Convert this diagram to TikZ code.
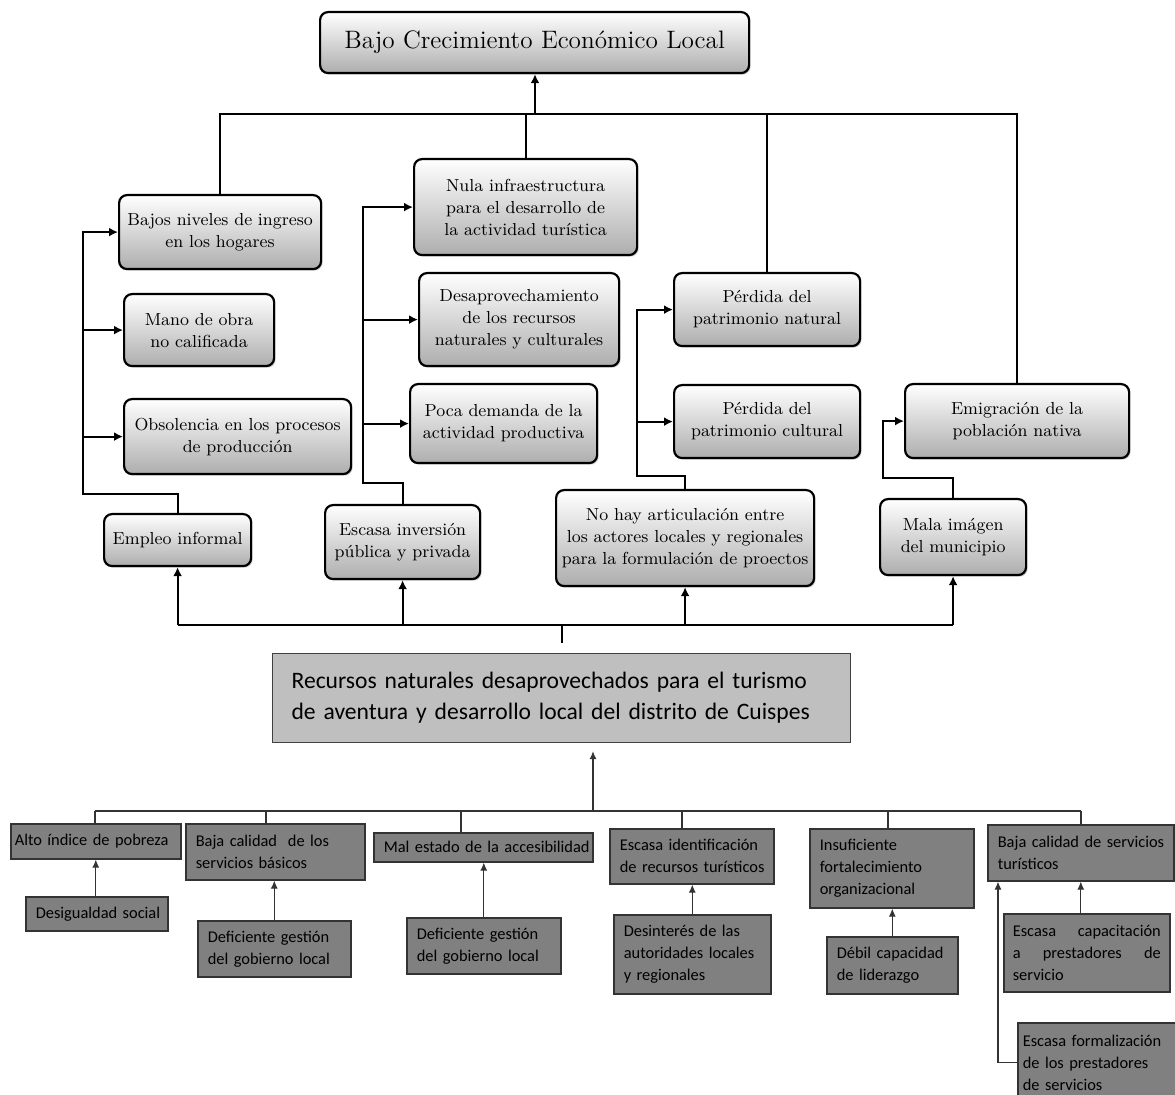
\documentclass[tikz,border=0pt]{standalone}
\usepackage{fontspec}
\newfontfamily\carl{Carlito}
\usetikzlibrary{arrows.meta,shadows}
\newcommand\bnode[8]{%
  \pgfmathsetlengthmacro\bnw{(#5-2*#7)*0.5}%
  \pgfmathsetlengthmacro\bnh{#6*0.5}%
  \pgfmathsetlengthmacro\bnp{#7*0.5}%
  \node[#1, anchor=north west, text width=\bnw, inner xsep=\bnp, inner ysep=0pt, minimum height=\bnh] (#2) at (#3,#4) {#8};}
\newcommand\ml[1]{\mbox{#1}}
\begin{document}
\begin{tikzpicture}[x=0.5pt,y=-0.5pt,
  ubox/.style={draw=black, line width=1.1pt, rounded corners=4pt,
    top color=white, bottom color=black!32, align=center,
    font=\fontsize{8.7}{11}\selectfont,
    drop shadow={shadow xshift=0.8pt, shadow yshift=-0.8pt, opacity=0.35}},
  tbox/.style={ubox, font=\fontsize{12.6}{15}\selectfont},
  mbox/.style={draw=black!75, line width=0.6pt, fill=black!25, align=left,
    font=\carl\fontsize{11.8}{15.5}\selectfont},
  bbox/.style={draw=black!80, line width=0.8pt, fill=black!50, align=left,
    font=\carl\fontsize{8.2}{11}\selectfont},
  uline/.style={line width=1pt, black},
  uarr/.style={uline, -{Latex[length=4.5pt,width=4.5pt]}},
  bline/.style={line width=0.55pt, black!80},
  barr/.style={bline, -{Latex[length=4pt,width=3.5pt]}}]
\useasboundingbox (0,0) rectangle (1175,1095);

% ---- upper part ----
\bnode{tbox}{top}{319}{11}{429}{61}{2}{Bajo Crecimiento Económico Local}
\bnode{ubox}{bajos}{118}{194}{202}{74}{2}{Bajos niveles de ingreso\\en los hogares}
\bnode{ubox}{mano}{123}{293}{150}{72}{2}{Mano de obra\\no calificada}
\bnode{ubox}{obso}{123}{398}{227}{75}{2}{Obsolencia en los procesos\\de producción}
\bnode{ubox}{empleo}{103}{513}{147}{52}{2}{Empleo informal}
\bnode{ubox}{nula}{413}{158}{223}{96}{2}{Nula infraestructura\\para el desarrollo de\\la actividad turística}
\bnode{ubox}{desap}{418}{272}{200}{93}{2}{Desaprovechamiento\\de los recursos\\naturales y culturales}
\bnode{ubox}{poca}{409}{383}{187}{79}{2}{Poca demanda de la\\actividad productiva}
\bnode{ubox}{inver}{324}{504}{155}{74}{2}{Escasa inversión\\pública y privada}
\bnode{ubox}{pnat}{673}{272}{186}{73}{2}{Pérdida del\\patrimonio natural}
\bnode{ubox}{pcul}{673}{384}{186}{73}{2}{Pérdida del\\patrimonio cultural}
\bnode{ubox}{nohay}{555}{489}{258}{96}{2}{No hay articulación entre\\los actores locales y regionales\\para la formulación de proectos}
\bnode{ubox}{emig}{904}{383}{224}{74}{2}{Emigración de la\\población nativa}
\bnode{ubox}{mala}{879}{498}{146}{76}{2}{Mala imágen\\del municipio}

% top trunk
\coordinate (t0) at (535,114);
\draw[uline] (bajos.north) |- (emig.north |- t0) -- (emig.north);
\draw[uline] (nula.north) -- (nula.north |- t0);
\draw[uline] (pnat.north) -- (pnat.north |- t0);
\draw[uarr] (t0) -- (t0 |- top.south);

% left group
\coordinate (lx) at (83,494);
\draw[uarr] (empleo.north) |- (lx) |- (bajos.west);
\draw[uarr] (lx |- mano.west) -- (mano.west);
\draw[uarr] (lx |- obso.west) -- (obso.west);
% middle group
\coordinate (mx) at (363,483);
\draw[uarr] (inver.north) |- (mx) |- (nula.west);
\draw[uarr] (mx |- desap.west) -- (desap.west);
\draw[uarr] (mx |- poca.west) -- (poca.west);
% right-middle group
\coordinate (rx) at (637,476);
\draw[uarr] (nohay.north) |- (rx) |- (pnat.west);
\draw[uarr] (rx |- pcul.west) -- (pcul.west);
% right group
\coordinate (ex) at (883,478);
\draw[uarr] (mala.north) |- (ex) |- (emig.west);

% ---- central problem ----
\bnode{mbox}{main}{272}{653}{578}{89}{19}{\ml{Recursos naturales desaprovechados para el turismo}\\\ml{de aventura y desarrollo local del distrito de Cuispes}}

\coordinate (s0) at (560,625);
\draw[uline] (empleo.south |- s0) -- (mala.south |- s0);
\draw[uarr] (empleo.south |- s0) -- (empleo.south);
\draw[uarr] (inver.south |- s0) -- (inver.south);
\draw[uarr] (nohay.south |- s0) -- (nohay.south);
\draw[uarr] (mala.south |- s0) -- (mala.south);
\draw[uline, shorten >=5pt] (main.north |- s0) -- (main.north);

% ---- lower part ----
\bnode{bbox}{alto}{10}{823}{170}{35}{4}{\ml{Alto índice de pobreza}}
\bnode{bbox}{desig}{25}{896}{142}{34}{10}{\ml{Desigualdad social}}
\bnode{bbox}{bbas}{185}{823}{179}{56}{10}{\ml{Baja calidad\ \ de los}\\\ml{servicios básicos}}
\bnode{bbox}{def1}{197}{920}{153}{56}{10}{\ml{Deficiente gestión}\\\ml{del gobierno local}}
\bnode{bbox}{mal}{373}{832}{219}{29}{10}{\ml{Mal estado de la accesibilidad}}
\bnode{bbox}{def2}{406}{917}{154}{56}{10}{\ml{Deficiente gestión}\\\ml{del gobierno local}}
\bnode{bbox}{eid}{609}{828}{164}{55}{10}{\ml{Escasa identificación}\\\ml{de recursos turísticos}}
\bnode{bbox}{desi}{613}{914}{157}{79}{10}{\ml{Desinterés de las}\\\ml{autoridades locales}\\\ml{y regionales}}
\bnode{bbox}{insu}{809}{828}{164}{79}{10}{\ml{Insuficiente}\\\ml{fortalecimiento}\\\ml{organizacional}}
\bnode{bbox}{debil}{826}{936}{131}{57}{10}{\ml{Débil capacidad}\\\ml{de liderazgo}}
\bnode{bbox}{btur}{987}{824}{186}{56}{10}{\ml{Baja calidad de servicios}\\\ml{turísticos}}
\bnode{bbox}{ecap}{1003}{913}{166}{78}{9}{Escasa\hfill capacitación\\a\hfill prestadores\hfill de\\servicio}
\bnode{bbox}{efor}{1017}{1022}{168}{80}{5}{\ml{Escasa formalización}\\\ml{de los prestadores}\\\ml{de servicios}}

\coordinate (bt) at (593,811);
\coordinate (d1) at (95,811);
\coordinate (d2) at (266,811);
\coordinate (d3) at (461,811);
\coordinate (d4) at (682,811);
\coordinate (d5) at (888,811);
\coordinate (d6) at (1081,811);
\draw[barr, shorten >=4pt] (bt) -- (bt |- main.south);
\draw[bline] (d1) -- (d6);
\draw[bline] (d1) -- (d1 |- alto.north);
\draw[bline] (d2) -- (d2 |- bbas.north);
\draw[bline] (d3) -- (d3 |- mal.north);
\draw[bline] (d4) -- (d4 |- eid.north);
\draw[bline] (d5) -- (d5 |- insu.north);
\draw[bline] (d6) -- (d6 |- btur.north);

\draw[barr] (alto.south |- desig.north) -- (alto.south);
\draw[barr] (def1.north) -- (def1.north |- bbas.south);
\draw[barr] (def2.north) -- (def2.north |- mal.south);
\draw[barr] (desi.north) -- (desi.north |- eid.south);
\draw[barr] (debil.north) -- (debil.north |- insu.south);
\draw[barr] (btur.south |- ecap.north) -- (btur.south);
\draw[barr] (efor.west) -| ([xshift=5.5pt]btur.south west);
\end{tikzpicture}
\end{document}
